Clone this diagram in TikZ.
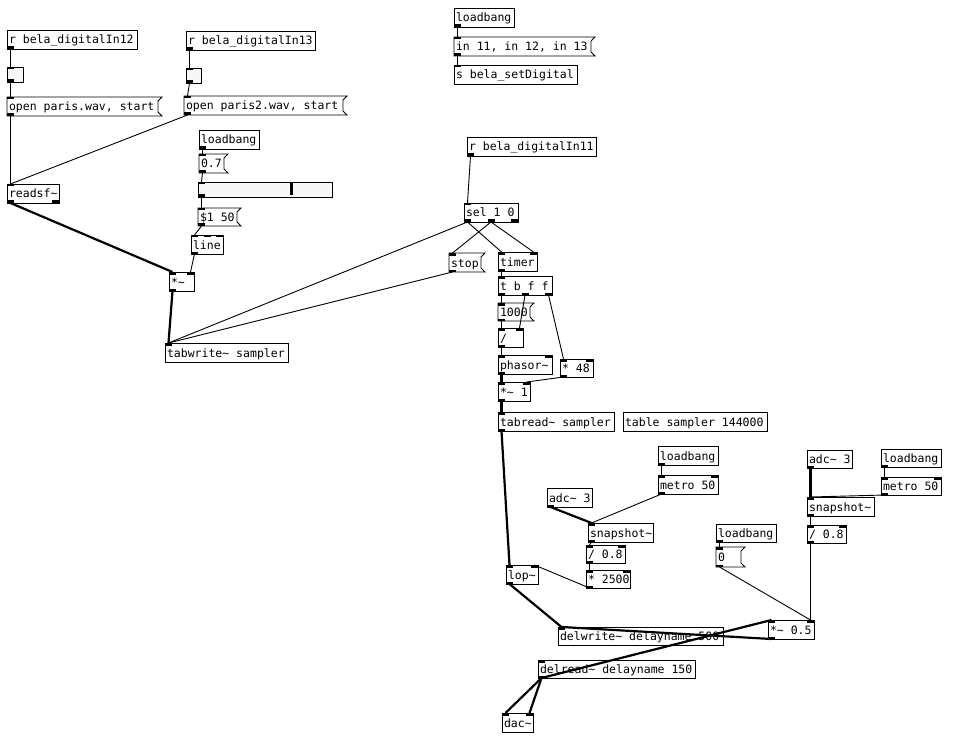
\documentclass[tikz,border=0pt]{standalone}
\usepackage{fontspec}
\newfontfamily\pdfont{DejaVu Sans Mono}
\usetikzlibrary{calc}
\newcommand\pdt{\textasciitilde}
\newcommand\pdiolets[6]{%
  \ifnum#5>0
    \pgfmathtruncatemacro\pdlast{#5-1}%
    \foreach \k in {0,...,\pdlast}{%
      \ifnum#5>1 \pgfmathsetmacro\pdxx{#2+\k*(#4-7)/(#5-1)}\else\pgfmathsetmacro\pdxx{#2}\fi
      \fill (\pdxx,#3) rectangle ++(7,#6);
      \coordinate (#1\k) at (\pdxx+3.5,#3);
    }%
  \fi}
% name, x, y, w, h, text, n inlets, n outlets
\newcommand\pobj[8]{%
  \node[obj, minimum width=#4pt, minimum height=#5pt] (#1) at (#2,#3) {\makebox[#4pt][l]{\hspace{2pt}#6}};
  \pdiolets{#1-i}{#2}{#3}{#4}{#7}{2.5}
  \pdiolets{#1-o}{#2}{#3+#5}{#4}{#8}{-2.5}}
% message box: name, x, y, w (incl. flag), h, text
\newcommand\pmsg[6]{%
  \pgfmathsetmacro\pdw{#4-4}%
  \node[obj, draw=none, minimum width=\pdw pt, minimum height=#5pt] (#1) at (#2,#3) {\makebox[\pdw pt][l]{\hspace{2pt}#6}};
  \draw[boxline] (#2,#3) -- ++(#4,0) -- ++(-4,4) -- (#2+#4-4,#3+#5-4) -- ++(4,4) -- (#2,#3+#5) -- cycle;
  \pdiolets{#1-i}{#2}{#3}{#4}{1}{2.5}
  \pdiolets{#1-o}{#2}{#3+#5}{#4}{1}{-2.5}}
% gui box (toggle / slider): name, x, y, w, h
\newcommand\pgui[5]{%
  \node[obj, fill=black!3, minimum width=#4pt, minimum height=#5pt, text height=0pt, text depth=0pt] (#1) at (#2,#3) {};
  \pdiolets{#1-i}{#2}{#3}{#4}{1}{2.5}
  \pdiolets{#1-o}{#2}{#3+#5}{#4}{1}{-2.5}}
\begin{document}
\begin{tikzpicture}[x=1pt,y=-1pt,
  boxline/.style={line width=0.9pt, draw=black},
  obj/.style={boxline, inner sep=0pt, outer sep=0pt, anchor=north west,
    font=\pdfont\fontsize{11.5}{12}\selectfont, text height=10pt, text depth=1pt},
  ctl/.style={line width=0.9pt},
  sig/.style={line width=2.2pt}]
\useasboundingbox[fill=white] (0,0) rectangle (953,738);

% ---- left: file players
\pobj{rIn12}{7}{30}{130}{19}{r bela\_digitalIn12}{0}{1}
\pgui{tgl1}{7}{67}{16}{15}
\pmsg{msg1}{7}{97}{155}{19}{open paris.wav, start}
\pobj{rIn13}{186}{31}{129}{19}{r bela\_digitalIn13}{0}{1}
\pgui{tgl2}{186}{68}{15}{15}
\pmsg{msg2}{184}{96}{163}{19}{open paris2.wav, start}
\pobj{readsf}{7}{184}{52}{19}{readsf\pdt}{1}{2}

\pobj{lb1}{199}{130}{60}{19}{loadbang}{0}{1}
\pmsg{msg07}{199}{154}{29}{19}{0.7}
\pgui{hsl}{198}{182}{134}{15}
\draw[line width=3pt] (291,183.5) -- (291,195.5);
\pmsg{msg150}{198}{208}{43}{18}{\$1 50}
\pobj{line}{191}{235}{32}{19}{line}{3}{1}
\pobj{mul1}{169}{272}{25}{19}{*\pdt}{2}{1}
\pobj{tabwrite}{165}{343}{123}{19}{tabwrite\pdt{} sampler}{1}{0}

% ---- top: digital setup
\pobj{lb2}{454}{8}{60}{19}{loadbang}{0}{1}
\pmsg{msgin}{454}{37}{141}{19}{in 11, in 12, in 13}
\pobj{sset}{454}{65}{123}{19}{s bela\_setDigital}{1}{0}

% ---- sampler control
\pobj{rIn11}{467}{137}{129}{19}{r bela\_digitalIn11}{0}{1}
\pobj{sel}{464}{203}{54}{19}{sel 1 0}{1}{3}
\pmsg{stop}{449}{253}{36}{19}{stop}
\pobj{timer}{498}{252}{39}{19}{timer}{2}{1}
\pobj{tbff}{498}{276}{54}{19}{t b f f}{1}{3}
\pmsg{msg1000}{498}{303}{36}{18}{1000}
\pobj{div}{498}{328}{25}{19}{/}{2}{1}
\pobj{phasor}{498}{355}{54}{19}{phasor\pdt}{2}{1}
\pobj{mul48}{560}{359}{33}{18}{* 48}{2}{1}
\pobj{mul1b}{498}{382}{32}{19}{*\pdt{} 1}{2}{1}
\pobj{tabread}{498}{412}{116}{19}{tabread\pdt{} sampler}{1}{1}
\pobj{table}{623}{412}{144}{19}{table sampler 144000}{0}{0}

% ---- filter control
\pobj{lb3}{658}{446}{60}{19}{loadbang}{0}{1}
\pobj{metro1}{658}{475}{60}{19}{metro 50}{2}{1}
\pobj{adc1}{547}{488}{45}{19}{adc\pdt{} 3}{0}{1}
\pobj{snap1}{588}{523}{65}{19}{snapshot\pdt}{1}{1}
\pobj{div08a}{586}{545}{39}{18}{/ 0.8}{2}{1}
\pobj{mul2500}{586}{570}{44}{18}{* 2500}{2}{1}
\pobj{lop}{506}{565}{32}{19}{lop\pdt}{2}{1}

% ---- feedback control
\pobj{adc2}{807}{450}{45}{18}{adc\pdt{} 3}{0}{1}
\pobj{lb4}{881}{449}{60}{18}{loadbang}{0}{1}
\pobj{metro2}{881}{477}{60}{18}{metro 50}{2}{1}
\pobj{snap2}{807}{497}{67}{19}{snapshot\pdt}{1}{1}
\pobj{div08b}{807}{525}{39}{18}{/ 0.8}{2}{1}
\pobj{lb5}{716}{524}{60}{18}{loadbang}{0}{1}
\pmsg{msg0}{716}{547}{29}{20}{0}
\pobj{mul05}{768}{620}{46}{19}{*\pdt{} 0.5}{2}{1}

% ---- delay
\pobj{delwrite}{558}{627}{165}{18}{delwrite\pdt{} delayname 500}{1}{0}
\pobj{delread}{538}{660}{157}{18}{delread\pdt{} delayname 150}{1}{1}
\pobj{dac}{502}{713}{31}{19}{dac\pdt}{2}{0}

% ---- control connections
\draw[ctl] (rIn12-o0) -- (tgl1-i0);
\draw[ctl] (tgl1-o0) -- (msg1-i0);
\draw[ctl] (msg1-o0) -- (readsf-i0);
\draw[ctl] (rIn13-o0) -- (tgl2-i0);
\draw[ctl] (tgl2-o0) -- (msg2-i0);
\draw[ctl] (msg2-o0) -- (readsf-i0);
\draw[ctl] (lb1-o0) -- (msg07-i0);
\draw[ctl] (msg07-o0) -- (hsl-i0);
\draw[ctl] (hsl-o0) -- (msg150-i0);
\draw[ctl] (msg150-o0) -- (line-i0);
\draw[ctl] (line-o0) -- (mul1-i1);
\draw[ctl] (sel-o0) -- (tabwrite-i0);
\draw[ctl] (stop-o0) -- (tabwrite-i0);
\draw[ctl] (sel-o0) -- (timer-i0);
\draw[ctl] (sel-o1) -- (stop-i0);
\draw[ctl] (sel-o1) -- (timer-i1);
\draw[ctl] (rIn11-o0) -- (sel-i0);
\draw[ctl] (lb2-o0) -- (msgin-i0);
\draw[ctl] (msgin-o0) -- (sset-i0);
\draw[ctl] (timer-o0) -- (tbff-i0);
\draw[ctl] (tbff-o0) -- (msg1000-i0);
\draw[ctl] (tbff-o1) -- (div-i1);
\draw[ctl] (tbff-o2) -- (mul48-i0);
\draw[ctl] (msg1000-o0) -- (div-i0);
\draw[ctl] (div-o0) -- (phasor-i0);
\draw[ctl] (mul48-o0) -- (mul1b-i1);
\draw[ctl] (lb3-o0) -- (metro1-i0);
\draw[ctl] (metro1-o0) -- (snap1-i0);
\draw[ctl] (snap1-o0) -- (div08a-i0);
\draw[ctl] (div08a-o0) -- (mul2500-i0);
\draw[ctl] (mul2500-o0) -- (lop-i1);
\draw[ctl] (lb4-o0) -- (metro2-i0);
\draw[ctl] (metro2-o0) -- (snap2-i0);
\draw[ctl] (snap2-o0) -- (div08b-i0);
\draw[ctl] (div08b-o0) -- (mul05-i1);
\draw[ctl] (lb5-o0) -- (msg0-i0);
\draw[ctl] (msg0-o0) -- (mul05-i1);

% ---- signal connections
\draw[sig] (readsf-o0) -- (mul1-i0);
\draw[sig] (mul1-o0) -- (tabwrite-i0);
\draw[sig] (phasor-o0) -- (mul1b-i0);
\draw[sig] (mul1b-o0) -- (tabread-i0);
\draw[sig] (tabread-o0) -- (lop-i0);
\draw[sig] (adc1-o0) -- (snap1-i0);
\draw[sig] (adc2-o0) -- (snap2-i0);
\draw[sig] (lop-o0) -- (delwrite-i0);
\draw[sig] (delread-o0) -- (dac-i0);
\draw[sig] (delread-o0) -- (dac-i1);
\draw[sig] (delread-o0) -- (mul05-i0);
\draw[sig] (mul05-o0) -- (delwrite-i0);
\end{tikzpicture}
\end{document}
